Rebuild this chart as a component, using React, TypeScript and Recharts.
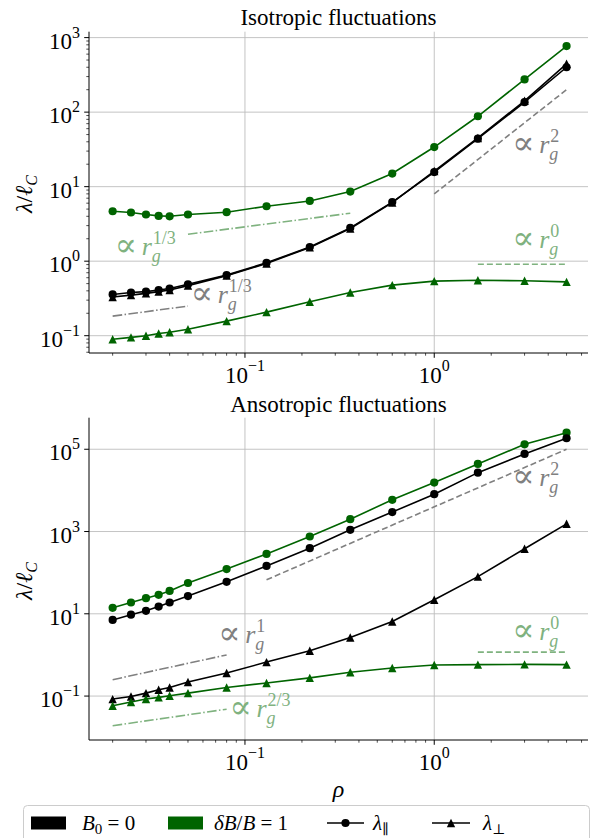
import React from "react";
import { LineChart, Line, XAxis, YAxis, CartesianGrid, ReferenceDot } from "recharts";

const SERIF = "'Liberation Serif', 'DejaVu Serif', serif";
const GREEN = "#006400";
const GREEN_REF = "#7fb27f";
const GRAY_REF = "#808080";

// gyroradius values shared by all series
const rho = [0.02, 0.025, 0.03, 0.035, 0.04, 0.05, 0.08, 0.13, 0.22, 0.36, 0.6, 1.0, 1.7, 3.0, 5.0];

// isotropic panel
const isoParB0 = [0.358, 0.38, 0.39, 0.41, 0.43, 0.49, 0.65, 0.95, 1.55, 2.8, 6.2, 15.7, 44, 136, 400];
const isoPerpB0 = [0.33, 0.35, 0.37, 0.39, 0.41, 0.47, 0.64, 0.93, 1.53, 2.75, 6.1, 16.2, 45, 142, 445];
const isoParDB = [4.68, 4.5, 4.23, 4.05, 4.0, 4.23, 4.54, 5.46, 6.43, 8.6, 15, 34, 88, 275, 769];
const isoPerpDB = [0.0895, 0.095, 0.1, 0.107, 0.111, 0.122, 0.157, 0.207, 0.285, 0.38, 0.477, 0.54, 0.556, 0.545, 0.528];

// anisotropic panel
const aniParB0 = [7.1, 9.5, 11.8, 15, 18.8, 27, 60, 146, 394, 1100, 2970, 8100, 27000, 77000, 185000];
const aniPerpB0 = [0.0845, 0.098, 0.118, 0.142, 0.162, 0.219, 0.363, 0.67, 1.26, 2.66, 6.5, 22, 80, 380, 1540];
const aniParDB = [14, 18.8, 24, 29, 36, 56, 122, 286, 757, 2000, 5900, 15500, 44000, 132000, 253000];
const aniPerpDB = [0.058, 0.072, 0.085, 0.093, 0.102, 0.118, 0.162, 0.208, 0.277, 0.38, 0.48, 0.57, 0.58, 0.59, 0.58];

// power-law guide lines (end points)
const isoGuideDB13 = [{ x: 0.05, y: 2.3 }, { x: 0.36, y: 4.4 }];
const isoGuideB013 = [{ x: 0.02, y: 0.183 }, { x: 0.05, y: 0.25 }];
const isoGuide2 = [{ x: 1.0, y: 8 }, { x: 5.0, y: 200 }];
const isoGuide0 = [{ x: 1.7, y: 0.91 }, { x: 5.0, y: 0.91 }];
const aniGuide2 = [{ x: 0.13, y: 67 }, { x: 5.0, y: 100000 }];
const aniGuide1 = [{ x: 0.02, y: 0.25 }, { x: 0.08, y: 1.0 }];
const aniGuide23 = [{ x: 0.02, y: 0.019 }, { x: 0.08, y: 0.048 }];
const aniGuide0 = [{ x: 1.7, y: 1.17 }, { x: 5.0, y: 1.17 }];

// ticks
const xMajor = [0.1, 1];
const xTicks = [0.02, 0.03, 0.04, 0.05, 0.06, 0.07, 0.08, 0.09, 0.1, 0.2, 0.3, 0.4, 0.5, 0.6, 0.7, 0.8, 0.9, 1, 2, 3, 4, 5, 6];
const isoYMajor = [0.1, 1, 10, 100, 1000];
const isoYTicks = [0.06, 0.07, 0.08, 0.09, 0.1, 0.2, 0.3, 0.4, 0.5, 0.6, 0.7, 0.8, 0.9, 1, 2, 3, 4, 5, 6, 7, 8, 9, 10,
  20, 30, 40, 50, 60, 70, 80, 90, 100, 200, 300, 400, 500, 600, 700, 800, 900, 1000];
const aniYMajor = [0.1, 10, 1000, 100000];

const xDomain = [0.015, 6.49];
const isoYDomain = [0.0586, 1200];
const aniYDomain = [0.00855, 585000];

const rows = (ys: number[]) => rho.map((x, i) => ({ x, y: ys[i] }));

const expText = (v: number) => {
  const e = Math.round(Math.log10(v));
  return e < 0 ? "\u2212" + -e : String(e);
};

const XTick = (p: any) => {
  const { x, y, payload } = p;
  const major = xMajor.includes(payload.value);
  return (
    <g>
      <line x1={x} x2={x} y1={y} y2={y + (major ? 4.8 : 2.7)} stroke="#000" strokeWidth={major ? 1 : 0.7} />
      {major && (
        <text x={x} y={y + 30} textAnchor="middle" fontSize={23} style={{ fontFamily: SERIF }} fill="#000">
          10<tspan dy={-12} fontSize={16}>{expText(payload.value)}</tspan>
        </text>
      )}
    </g>
  );
};

const makeYTick = (majors: number[]) => (p: any) => {
  const { x, y, payload } = p;
  const major = majors.includes(payload.value);
  return (
    <g>
      <line x1={x - (major ? 4.8 : 2.7)} x2={x} y1={y} y2={y} stroke="#000" strokeWidth={major ? 1 : 0.7} />
      {major && (
        <text x={x - 9} y={y + 11} textAnchor="end" fontSize={23} style={{ fontFamily: SERIF }} fill="#000">
          10<tspan dy={-11} fontSize={16}>{expText(payload.value)}</tspan>
        </text>
      )}
    </g>
  );
};

const triangle = (color: string) => (p: any) => {
  const { cx, cy, key } = p;
  const s = 4.2;
  return <path key={key} d={`M${cx},${cy - s}L${cx + s},${cy + s}L${cx - s},${cy + s}Z`} fill={color} />;
};

const PropLabel = ({ cx, cy, exp, color }: any) => (
  <g fill={color} style={{ fontFamily: SERIF }}>
    <text x={cx - 2} y={cy + 1} fontSize={33} style={{ fontFamily: "'DejaVu Serif', serif" }}>∝</text>
    <text x={cx + 25} y={cy} fontSize={26} fontStyle="italic">r</text>
    <text x={cx + 35} y={cy + 7} fontSize={18} fontStyle="italic">g</text>
    <text x={cx + 36} y={cy - 11} fontSize={18}>{exp}</text>
  </g>
);

const label = (x: number, y: number, exp: string, color: string) => (
  <ReferenceDot
    x={x}
    y={y}
    r={0}
    ifOverflow="visible"
    shape={(p: any) => <PropLabel cx={p.cx} cy={p.cy} exp={exp} color={color} />}
  />
);

const dataLine = (ys: number[], color: string, tri: boolean) => (
  <Line
    data={rows(ys)}
    dataKey="y"
    stroke={color}
    strokeWidth={1.6}
    dot={tri ? triangle(color) : { r: 4.1, fill: color, stroke: color, strokeWidth: 0 }}
    isAnimationActive={false}
    legendType="none"
  />
);

const guide = (pts: any[], color: string, dash: string) => (
  <Line
    data={pts}
    dataKey="y"
    stroke={color}
    strokeWidth={1.6}
    strokeDasharray={dash}
    dot={false}
    isAnimationActive={false}
    legendType="none"
  />
);

const DASH = "6 3";
const DASHDOT = "9.6 2.4 1.5 2.4";

function Panel({ height, top, yDomain, yTicks, yMajor, children }: any) {
  return (
    <LineChart width={592} height={height} margin={{ top, right: 4, left: 0, bottom: 0 }}>
      <CartesianGrid horizontalValues={yMajor} verticalValues={xMajor} stroke="#bdbdbd" strokeWidth={0.9} />
      <XAxis dataKey="x" type="number" scale="log" domain={xDomain} allowDataOverflow ticks={xTicks} interval={0}
        tick={XTick} tickLine={false} tickSize={0} tickMargin={0} height={42} axisLine={{ stroke: "#000" }} />
      <XAxis xAxisId="top" orientation="top" dataKey="x" type="number" scale="log" domain={xDomain} allowDataOverflow
        tick={false} tickLine={false} height={0} axisLine={{ stroke: "#000" }} />
      <YAxis type="number" scale="log" domain={yDomain} allowDataOverflow ticks={yTicks} interval={0}
        tick={makeYTick(yMajor)} tickLine={false} tickSize={0} tickMargin={0} width={89} axisLine={{ stroke: "#000" }} />
      <YAxis yAxisId="right" orientation="right" type="number" scale="log" domain={yDomain} allowDataOverflow
        tick={false} tickLine={false} width={0} axisLine={{ stroke: "#000" }} />
      {children}
    </LineChart>
  );
}

export default function App() {
  return (
    <div style={{ position: "absolute", left: 0, top: 0, width: 592, height: 838, background: "#fff", overflow: "hidden" }}>
      <div style={{ position: "absolute", left: 0, top: 0 }}>
        <Panel height={395} top={31.7} yDomain={isoYDomain} yTicks={isoYTicks} yMajor={isoYMajor}>
          {guide(isoGuideDB13, GREEN_REF, DASHDOT)}
          {guide(isoGuideB013, GRAY_REF, DASHDOT)}
          {guide(isoGuide2, GRAY_REF, DASH)}
          {guide(isoGuide0, GREEN_REF, DASH)}
          {dataLine(isoParDB, GREEN, false)}
          {dataLine(isoPerpDB, GREEN, true)}
          {dataLine(isoPerpB0, "#000", true)}
          {dataLine(isoParB0, "#000", false)}
          {label(2.65, 28, "2", GRAY_REF)}
          {label(2.65, 1.48, "0", GREEN_REF)}
          {label(0.021, 1.2, "1/3", GREEN_REF)}
          {label(0.053, 0.276, "1/3", GRAY_REF)}
        </Panel>
      </div>
      <div style={{ position: "absolute", left: 0, top: 395 }}>
        <Panel height={387} top={22.7} yDomain={aniYDomain} yTicks={aniYMajor} yMajor={aniYMajor}>
          {guide(aniGuide2, GRAY_REF, DASH)}
          {guide(aniGuide1, GRAY_REF, DASHDOT)}
          {guide(aniGuide23, GREEN_REF, DASHDOT)}
          {guide(aniGuide0, GREEN_REF, DASH)}
          {dataLine(aniParDB, GREEN, false)}
          {dataLine(aniParB0, "#000", false)}
          {dataLine(aniPerpB0, "#000", true)}
          {dataLine(aniPerpDB, GREEN, true)}
          {label(2.65, 12800, "2", GRAY_REF)}
          {label(2.65, 2.34, "0", GREEN_REF)}
          {label(0.074, 1.95, "1", GRAY_REF)}
          {label(0.085, 0.031, "2/3", GREEN_REF)}
        </Panel>
      </div>
      <svg width={592} height={838} style={{ position: "absolute", left: 0, top: 0, pointerEvents: "none", fontFamily: SERIF }}>
        <text x={338.5} y={25} textAnchor="middle" fontSize={23}>Isotropic fluctuations</text>
        <text x={338.5} y={412} textAnchor="middle" fontSize={23}>Ansotropic fluctuations</text>
        {[194, 581].map((cy) => (
          <text key={cy} x={32} y={cy} textAnchor="middle" fontSize={24} transform={`rotate(-90 32 ${cy})`}>
            <tspan fontStyle="italic">λ</tspan>/<tspan fontStyle="italic">ℓ</tspan>
            <tspan fontSize={16} fontStyle="italic" dy={5}>C</tspan>
          </text>
        ))}
        <text x={338.5} y={797} textAnchor="middle" fontSize={24} fontStyle="italic">ρ</text>
        <rect x={23.5} y={805.5} width={566} height={50} rx={4} fill="#fff" stroke="#ccc" />
        <rect x={31} y={816.5} width={35} height={13} fill="#000" />
        <text x={82} y={830} fontSize={21}>
          <tspan fontStyle="italic">B</tspan><tspan fontSize={15} dy={4}>0</tspan><tspan dy={-4}> = 0</tspan>
        </text>
        <rect x={168} y={816.5} width={35} height={13} fill={GREEN} />
        <text x={214} y={830} fontSize={21}>
          <tspan fontStyle="italic">δB</tspan>/<tspan fontStyle="italic">B</tspan> = 1
        </text>
        <line x1={327} x2={364} y1={823} y2={823} stroke="#000" strokeWidth={1.6} />
        <circle cx={345.5} cy={823} r={4.1} fill="#000" />
        <text x={373} y={830} fontSize={21}>
          <tspan fontStyle="italic">λ</tspan><tspan fontSize={14} dy={4}>∥</tspan>
        </text>
        <line x1={432} x2={470} y1={823} y2={823} stroke="#000" strokeWidth={1.6} />
        <path d="M451,818.8L455.2,827.2L446.8,827.2Z" fill="#000" />
        <text x={483} y={830} fontSize={21}>
          <tspan fontStyle="italic">λ</tspan><tspan fontSize={14} dy={4}>⊥</tspan>
        </text>
      </svg>
    </div>
  );
}
